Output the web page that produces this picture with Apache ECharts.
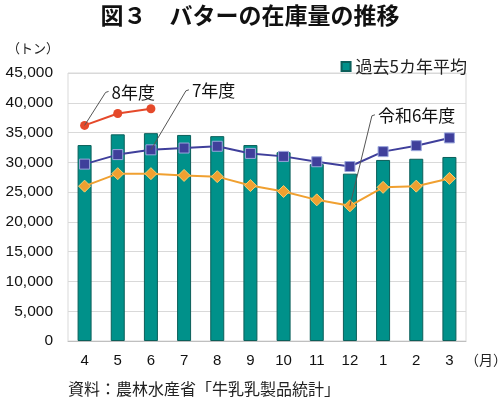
<!DOCTYPE html>
<html>
<head>
<meta charset="utf-8">
<script src="https://cdn.jsdelivr.net/npm/echarts@6/dist/echarts.min.js"></script>
<style>
  html, body { margin: 0; padding: 0; background: #fff; }
  #chart { width: 500px; height: 401px; }
</style>
</head>
<body>
<div id="chart"></div>
<script>
    'use strict';

    var months = ['4', '5', '6', '7', '8', '9', '10', '11', '12', '1', '2', '3'];
    var avg5 = [32900, 34700, 34900, 34600, 34400, 32900, 31700, 29700, 28100, 30400, 30600, 30900];
    var fy7 = [29700, 31300, 32100, 32400, 32700, 31500, 31000, 30100, 29300, 31800, 32800, 34100];
    var fy6 = [26000, 28100, 28100, 27800, 27600, 26100, 25100, 23700, 22700, 25800, 26000, 27300];
    var fy8 = [36200, 38200, 39000];

    var jp = '"Noto Sans CJK JP", sans-serif';
    var num = '"Liberation Sans", Arial, sans-serif';

    var chart = echarts.init(document.getElementById('chart'));

    var option = {
        animation: false,
        backgroundColor: '#fff',
        title: [
            { text: '図３　バターの在庫量の推移', left: 'center', top: -1,
              textStyle: { fontFamily: jp, fontSize: 23, fontWeight: 'bold', color: '#111' } },
            { text: '（トン）', left: 2, top: 37,
              textStyle: { fontFamily: jp, fontSize: 13, fontWeight: 'normal', color: '#222' } },
            { text: '（月）', left: 460, top: 348,
              textStyle: { fontFamily: jp, fontSize: 14, fontWeight: 'normal', color: '#222' } },
            { text: '資料：農林水産省「牛乳乳製品統計」', left: 63, top: 376,
              textStyle: { fontFamily: jp, fontSize: 16, fontWeight: 'normal', color: '#222' } }
        ],
        legend: {
            data: ['過去5カ年平均'],
            right: 28, top: 53,
            icon: 'rect', itemWidth: 9, itemHeight: 9, itemGap: 6,
            textStyle: { fontFamily: jp, fontSize: 17, color: '#222' }
        },
        grid: {
            left: 68, right: 34, top: 73, bottom: 60,
            show: true, borderColor: '#d9d9d9', borderWidth: 1
        },
        xAxis: {
            type: 'category',
            data: months,
            axisTick: { show: false },
            axisLine: { lineStyle: { color: '#bfbfbf' } },
            axisLabel: { fontFamily: num, fontSize: 15, color: '#111', margin: 12 }
        },
        yAxis: {
            type: 'value',
            min: 0, max: 45000, interval: 5000,
            axisLine: { show: false },
            axisTick: { show: false },
            splitLine: { lineStyle: { color: '#d9d9d9' } },
            axisLabel: {
                fontFamily: num, fontSize: 15.5, color: '#111', margin: 15,
                formatter: function (v) { return v.toLocaleString('en-US'); }
            }
        },
        series: [
            {
                name: '過去5カ年平均', type: 'bar', data: avg5,
                barWidth: 14,
                itemStyle: { color: '#00918a', borderColor: '#0b5f5a', borderWidth: 1 }
            },
            {
                name: '7年度', type: 'line', data: fy7,
                symbol: 'rect', symbolSize: 10,
                lineStyle: { color: '#3f3f9b', width: 2 },
                itemStyle: { color: '#3f3f9b', borderColor: '#9aa6dc', borderWidth: 1 }
            },
            {
                name: '令和6年度', type: 'line', data: fy6,
                symbol: 'diamond', symbolSize: 12,
                lineStyle: { color: '#f0a030', width: 2 },
                itemStyle: { color: '#f0a030', borderColor: '#f7d070', borderWidth: 1 }
            },
            {
                name: '8年度', type: 'line', data: fy8,
                symbol: 'circle', symbolSize: 9,
                lineStyle: { color: '#e5492a', width: 2 },
                itemStyle: { color: '#e5492a' }
            }
        ]
    };

    chart.setOption(option);

    // leader-line callouts anchored to data points
    var callouts = [
        { text: '8年度', month: 0, value: fy8[0], dx: 21, dy: -33 },
        { text: '7年度', month: 2, value: fy7[2], dx: 35, dy: -59 },
        { text: '令和6年度', month: 8, value: fy6[8], dx: 22, dy: -90 }
    ];

    var graphics = [];
    callouts.forEach(function (c) {
        var p = chart.convertToPixel({ gridIndex: 0 }, [c.month, c.value]);
        var ex = p[0] + c.dx, ey = p[1] + c.dy;
        graphics.push({
            type: 'polyline',
            shape: { points: [[p[0], p[1]], [ex, ey], [ex + 3, ey - 1]] },
            style: { stroke: '#555', lineWidth: 1, fill: null },
            z: 10
        });
        graphics.push({
            type: 'text',
            x: ex + 6, y: ey,
            style: { text: c.text, fontFamily: jp, fontSize: 17, fill: '#111',
                     verticalAlign: 'middle', align: 'left' },
            z: 10
        });
    });
    chart.setOption({ graphic: graphics });
</script>
</body>
</html>
